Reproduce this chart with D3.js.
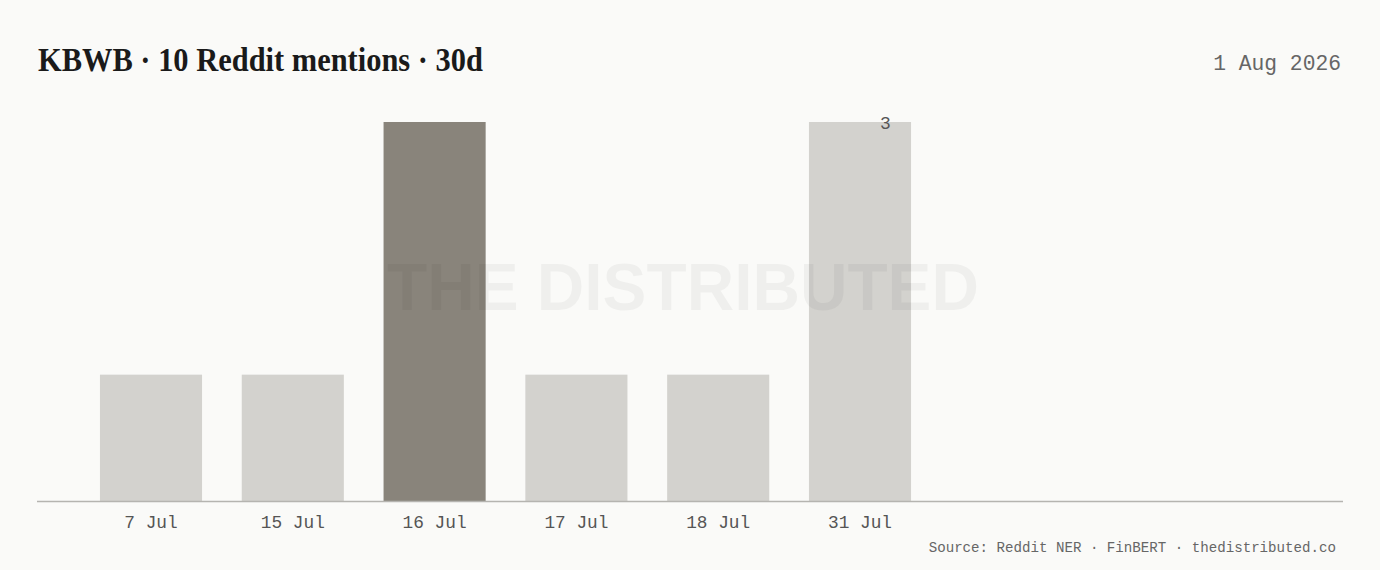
<!DOCTYPE html>
<html>
<head>
<meta charset="utf-8">
<script src="https://cdn.jsdelivr.net/npm/d3@7"></script>
<style>
  html, body { margin: 0; padding: 0; background: #fafaf8; }
  svg { display: block; }
</style>
</head>
<body>
<svg id="chart" width="1380" height="570"></svg>
<script>
(() => {
  const DATES = ["7 Jul", "15 Jul", "16 Jul", "17 Jul", "18 Jul", "31 Jul"];
  const MENTIONS = [1, 1, 3, 1, 1, 3];
  const HIGHLIGHT = "16 Jul";

  const TITLE = "KBWB \u00b7 10 Reddit mentions \u00b7 30d";
  const AS_OF = "1 Aug 2026";
  const SOURCE = "Source: Reddit NER \u00b7 FinBERT \u00b7 thedistributed.co";
  const WATERMARK = "THE DISTRIBUTED";

  const width = 1380;
  const height = 570;
  const margin = { top: 122, right: 37, bottom: 69, left: 37 };
  const innerBottom = height - margin.bottom;

  const MONO = "'Liberation Mono', 'DejaVu Sans Mono', monospace";

  const svg = d3.select("#chart");

  svg.append("rect")
    .attr("width", width)
    .attr("height", height)
    .attr("fill", "#fafaf8");

  const rows = DATES.map((d, i) => ({ date: d, value: MENTIONS[i] }));

  /* ---------- SCALES ---------- */

  // slots are fixed width, so the band range stops short of the axis end
  const x = d3.scaleBand()
    .domain(DATES)
    .range([margin.left, 974])
    .paddingInner(0.28)
    .paddingOuter(0.444);

  const y = d3.scaleLinear()
    .domain([0, d3.max(MENTIONS)])
    .range([innerBottom, margin.top]);

  /* ---------- BARS ---------- */

  svg.append("g")
    .selectAll("rect")
    .data(rows)
    .join("rect")
    .attr("x", d => x(d.date))
    .attr("y", d => y(d.value))
    .attr("width", x.bandwidth())
    .attr("height", d => y(0) - y(d.value))
    .attr("fill", d => d.date === HIGHLIGHT ? "#89847b" : "#d3d2ce");

  /* ---------- WATERMARK ---------- */

  svg.append("text")
    .attr("x", (margin.left + width - margin.right) / 2 - 7)
    .attr("y", 310)
    .attr("text-anchor", "middle")
    .attr("font-family", "'Liberation Sans', Arial, sans-serif")
    .attr("font-weight", "bold")
    .attr("font-size", 66)
    .attr("textLength", 592)
    .attr("lengthAdjust", "spacingAndGlyphs")
    .attr("fill", "#000")
    .attr("fill-opacity", 0.045)
    .text(WATERMARK);

  /* ---------- AXIS ---------- */

  svg.append("line")
    .attr("x1", margin.left)
    .attr("x2", width - margin.right)
    .attr("y1", y(0) + 0.5)
    .attr("y2", y(0) + 0.5)
    .attr("stroke", "#b5b4b0")
    .attr("stroke-width", 1.5);

  const xAxis = svg.append("g")
    .attr("transform", `translate(0,${y(0)})`)
    .call(d3.axisBottom(x).tickSize(0).tickPadding(14));

  xAxis.select(".domain").remove();
  xAxis.selectAll("text")
    .attr("font-family", MONO)
    .attr("font-size", 17.8)
    .attr("fill", "#555");

  /* ---------- LAST VALUE LABEL ---------- */

  const last = rows[rows.length - 1];
  svg.append("text")
    .attr("x", x(last.date) + x.bandwidth() * 0.75)
    .attr("y", y(last.value) + 7)
    .attr("text-anchor", "middle")
    .attr("font-family", MONO)
    .attr("font-size", 18)
    .attr("fill", "#555")
    .text(last.value);

  /* ---------- TITLES ---------- */

  svg.append("text")
    .attr("x", 38)
    .attr("y", 71)
    .attr("font-family", "'Liberation Serif', 'DejaVu Serif', serif")
    .attr("font-weight", "bold")
    .attr("font-size", 34)
    .attr("textLength", 445)
    .attr("lengthAdjust", "spacingAndGlyphs")
    .attr("fill", "#1a1a1a")
    .text(TITLE);

  svg.append("text")
    .attr("x", 1341)
    .attr("y", 70)
    .attr("text-anchor", "end")
    .attr("font-family", MONO)
    .attr("font-size", 21.3)
    .attr("fill", "#666")
    .text(AS_OF);

  svg.append("text")
    .attr("x", 1336)
    .attr("y", 552)
    .attr("text-anchor", "end")
    .attr("font-family", MONO)
    .attr("font-size", 14.15)
    .attr("fill", "#666")
    .text(SOURCE);
})();
</script>
</body>
</html>
